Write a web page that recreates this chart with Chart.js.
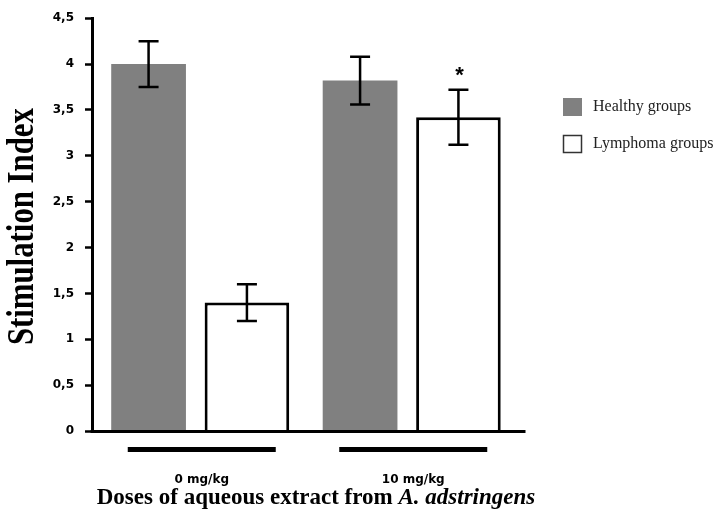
<!DOCTYPE html>
<html lang="en">
<head>
    <meta charset="UTF-8">
    <title>Stimulation Index</title>
    <script src="https://cdn.jsdelivr.net/npm/chart.js"></script>
    <style>
        html, body { margin: 0; padding: 0; background: #fff; }
        #wrap { width: 723px; height: 511px; }
    </style>
</head>
<body>
    <div id="wrap"><canvas id="siChart" width="723" height="511"></canvas></div>

    <script>
        // data
        const doses = ["0 mg/kg", "10 mg/kg"];
        const healthy = [4.0, 3.82];
        const healthyErr = [0.25, 0.26];
        const lymphoma = [1.4, 3.42];
        const lymphomaErr = [0.2, 0.3];
        const lymphomaStar = [false, true];
        const yTicks = [0, 0.5, 1, 1.5, 2, 2.5, 3, 3.5, 4, 4.5];

        const errors = [healthyErr, lymphomaErr];

        // error bars + asterisk
        const errorBars = {
            id: "errorBars",
            afterDatasetsDraw(chart) {
                const ctx = chart.ctx;
                const y = chart.scales.y;
                ctx.save();
                ctx.strokeStyle = "#000";
                ctx.lineWidth = 2.5;
                chart.data.datasets.forEach((ds, i) => {
                    const meta = chart.getDatasetMeta(i);
                    meta.data.forEach((bar, j) => {
                        const v = ds.data[j], e = errors[i][j];
                        const top = y.getPixelForValue(v + e);
                        const bot = y.getPixelForValue(v - e);
                        ctx.beginPath();
                        ctx.moveTo(bar.x, top); ctx.lineTo(bar.x, bot);
                        ctx.moveTo(bar.x - 10, top); ctx.lineTo(bar.x + 10, top);
                        ctx.moveTo(bar.x - 10, bot); ctx.lineTo(bar.x + 10, bot);
                        ctx.stroke();
                        if (i === 1 && lymphomaStar[j]) {
                            ctx.fillStyle = "#000";
                            ctx.font = "bold 22px 'Liberation Sans'";
                            ctx.textAlign = "center";
                            ctx.textBaseline = "middle";
                            ctx.fillText("*", bar.x + 1, top - 14);
                        }
                    });
                });
                ctx.restore();
            }
        };

        // titles, group underlines, x axis line and legend
        const decorations = {
            id: "decorations",
            afterDraw(chart) {
                const ctx = chart.ctx;
                const area = chart.chartArea;
                const x = chart.scales.x;
                ctx.save();

                // x axis line, running a bit past the last group
                ctx.fillStyle = "#000";
                ctx.fillRect(area.left - 1.5, area.bottom - 1, 527 - area.left, 3);

                // black bars under the dose groups
                doses.forEach((d, i) => {
                    const cx = x.getPixelForValue(i) + 4;
                    ctx.fillRect(cx - 74, 447, 148, 5);
                });

                // y title
                ctx.save();
                ctx.translate(33, (area.top + area.bottom) / 2 + 2);
                ctx.rotate(-Math.PI / 2);
                ctx.font = "bold 38px 'Liberation Serif'";
                ctx.textAlign = "center";
                ctx.textBaseline = "alphabetic";
                ctx.fillText("Stimulation Index", 0, 0, 237);
                ctx.restore();

                // x title with italic species name
                const p1 = "Doses of aqueous extract from ";
                const p2 = "A. adstringens";
                const f1 = "bold 23px 'Liberation Serif'";
                const f2 = "italic bold 23px 'Liberation Serif'";
                ctx.font = f1; const w1 = ctx.measureText(p1).width;
                ctx.font = f2; const w2 = ctx.measureText(p2).width;
                const sx = 316 - (w1 + w2) / 2;
                ctx.textAlign = "left";
                ctx.textBaseline = "alphabetic";
                ctx.font = f1; ctx.fillText(p1, sx, 504);
                ctx.font = f2; ctx.fillText(p2, sx + w1, 504);

                // legend
                const items = [
                    { label: "Healthy groups", y: 98, fill: "#808080", border: null },
                    { label: "Lymphoma groups", y: 135, fill: "#fff", border: "#333" }
                ];
                items.forEach(it => {
                    ctx.fillStyle = it.fill;
                    ctx.fillRect(563, it.y, 19, 18);
                    if (it.border) {
                        ctx.strokeStyle = it.border;
                        ctx.lineWidth = 1.5;
                        ctx.strokeRect(563.5, it.y + 0.5, 18, 17);
                    }
                    ctx.fillStyle = "#222";
                    ctx.font = "16px 'Liberation Serif'";
                    ctx.textBaseline = "middle";
                    ctx.fillText(it.label, 593, it.y + 9);
                });
                ctx.restore();
            }
        };

        new Chart(document.getElementById("siChart"), {
            type: "bar",
            data: {
                labels: doses,
                datasets: [
                    {
                        label: "Healthy groups",
                        data: healthy,
                        backgroundColor: "#808080",
                        borderWidth: 0,
                        barPercentage: 0.76
                    },
                    {
                        label: "Lymphoma groups",
                        data: lymphoma,
                        backgroundColor: "#fff",
                        borderColor: "#000",
                        borderWidth: 3,
                        barPercentage: 0.86
                    }
                ]
            },
            options: {
                responsive: false,
                animation: false,
                categoryPercentage: 0.93,
                layout: { padding: { top: 16, right: 208, bottom: 0, left: 0 } },
                plugins: {
                    legend: { display: false },
                    tooltip: { enabled: false }
                },
                scales: {
                    x: {
                        grid: { display: false, drawTicks: false },
                        border: { display: false },
                        ticks: {
                            color: "#000",
                            padding: 42,
                            font: { family: "'DejaVu Sans'", size: 12, weight: "bold" },
                            labelOffset: 4
                        },
                        afterFit(scale) { scale.height = 80; }
                    },
                    y: {
                        min: 0,
                        max: 4.5,
                        afterBuildTicks(scale) {
                            scale.ticks = yTicks.map(v => ({ value: v }));
                        },
                        grid: {
                            drawOnChartArea: false,
                            drawTicks: true,
                            tickLength: 7,
                            tickWidth: 2.5,
                            tickColor: "#000"
                        },
                        border: { display: true, color: "#000", width: 3 },
                        ticks: {
                            color: "#000",
                            padding: 11,
                            font: { family: "'DejaVu Sans'", size: 12, weight: "bold" },
                            callback: v => String(v).replace(".", ",")
                        },
                        afterFit(scale) { scale.width = 92; }
                    }
                }
            },
            plugins: [errorBars, decorations]
        });
    </script>
</body>
</html>
